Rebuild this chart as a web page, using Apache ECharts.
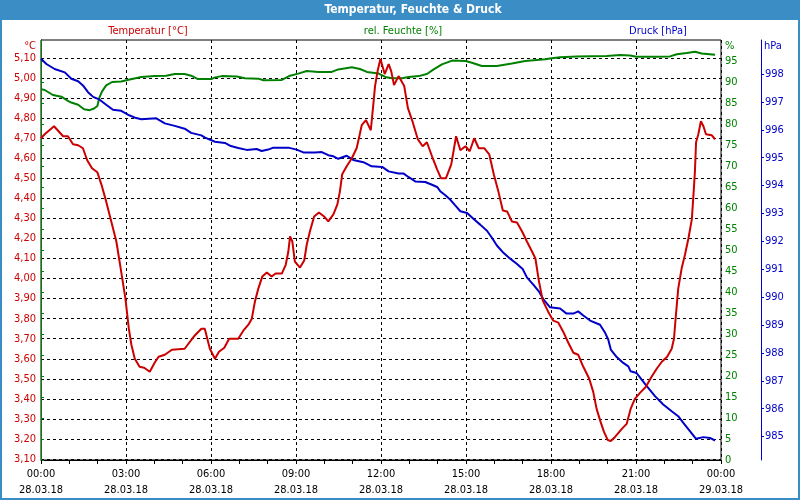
<!DOCTYPE html>
<html><head><meta charset="utf-8">
<script src="https://cdn.jsdelivr.net/npm/echarts@6/dist/echarts.min.js"></script>
<style>html,body{margin:0;padding:0;background:#fff}#c{width:800px;height:500px}</style>
</head><body><div id="c"></div>
<script>
const FONT = "'DejaVu Sans Condensed','Liberation Sans',sans-serif";
const RED = '#cc0000', GREEN = '#008000', BLUE = '#0000c8', FRAME = '#3b8dc6';

const chartTitle = 'Temperatur, Feuchte & Druck';
const seriesNames = ['Temperatur [°C]', 'rel. Feuchte [%]', 'Druck [hPa]'];
const unitNames = ['°C', '%', 'hPa'];
const hourLabels = ['00:00','03:00','06:00','09:00','12:00','15:00','18:00','21:00','00:00'];
const dateLabels = ['28.03.18','28.03.18','28.03.18','28.03.18','28.03.18','28.03.18','28.03.18','28.03.18','29.03.18'];
const pressureTicks = [985,986,987,988,989,990,991,992,993,994,995,996,997,998];

const tempHours = [0.00,0.13,0.46,0.78,0.95,1.13,1.31,1.48,1.63,1.80,1.99,2.13,2.30,2.48,2.66,2.83,2.98,3.10,3.19,3.31,3.48,3.64,3.84,4.01,4.15,4.37,4.62,5.07,5.42,5.66,5.78,5.96,6.14,6.28,6.47,6.64,6.96,7.14,7.32,7.44,7.55,7.67,7.81,7.97,8.14,8.28,8.50,8.64,8.73,8.79,8.87,8.96,9.14,9.29,9.38,9.49,9.64,9.81,9.99,10.14,10.32,10.46,10.55,10.63,10.79,10.97,11.14,11.22,11.32,11.47,11.64,11.73,11.79,11.88,11.98,12.13,12.27,12.36,12.46,12.62,12.82,12.95,13.12,13.30,13.47,13.62,13.80,13.98,14.12,14.29,14.48,14.65,14.80,14.98,15.13,15.29,15.45,15.65,15.82,15.98,16.15,16.30,16.45,16.62,16.80,16.98,17.15,17.33,17.45,17.57,17.71,17.90,18.08,18.26,18.43,18.61,18.79,18.96,19.14,19.35,19.49,19.61,19.75,19.87,20.00,20.11,20.26,20.50,20.67,20.81,20.96,21.14,21.35,21.55,21.73,21.91,22.10,22.26,22.34,22.41,22.49,22.61,22.73,22.85,22.97,23.02,23.08,23.12,23.20,23.29,23.38,23.47,23.67,23.79];
const tempValues = [4.70,4.72,4.76,4.71,4.71,4.67,4.665,4.65,4.59,4.55,4.53,4.47,4.385,4.285,4.185,4.035,3.90,3.75,3.67,3.60,3.56,3.555,3.535,3.58,3.61,3.62,3.645,3.65,3.715,3.75,3.75,3.65,3.60,3.635,3.655,3.70,3.70,3.74,3.77,3.80,3.885,3.95,4.01,4.03,4.01,4.025,4.025,4.07,4.135,4.21,4.185,4.085,4.055,4.09,4.17,4.235,4.31,4.33,4.31,4.285,4.32,4.37,4.435,4.52,4.56,4.60,4.65,4.70,4.765,4.79,4.74,4.87,4.96,5.035,5.095,5.02,5.07,5.035,4.965,5.01,4.96,4.85,4.78,4.695,4.66,4.68,4.61,4.545,4.50,4.50,4.57,4.71,4.64,4.66,4.635,4.70,4.65,4.65,4.62,4.52,4.43,4.34,4.335,4.285,4.28,4.235,4.185,4.135,4.10,3.99,3.89,3.835,3.79,3.78,3.735,3.68,3.63,3.62,3.56,3.50,3.435,3.35,3.285,3.235,3.195,3.19,3.21,3.25,3.275,3.35,3.40,3.43,3.46,3.51,3.55,3.585,3.61,3.65,3.70,3.82,3.95,4.05,4.12,4.20,4.295,4.40,4.535,4.68,4.72,4.785,4.76,4.72,4.715,4.695];

const humHours = [0.00,0.13,0.42,0.72,0.95,1.07,1.31,1.52,1.72,1.87,1.99,2.06,2.15,2.30,2.51,2.83,3.13,3.54,4.01,4.42,4.72,5.07,5.30,5.54,6.01,6.14,6.38,6.91,7.20,7.67,7.85,8.50,8.79,9.08,9.38,9.79,10.26,10.49,10.97,11.26,11.50,11.92,12.15,12.39,12.74,12.98,13.33,13.62,13.86,14.15,14.51,14.98,15.21,15.56,16.09,16.62,17.09,17.80,17.96,18.32,18.91,19.97,20.44,20.79,21.02,21.73,22.20,22.44,22.79,23.08,23.32,23.79];
const humValues = [88.3,88.1,86.9,86.5,85.5,85.1,84.6,83.5,83.3,83.7,84.3,86.3,87.7,89.2,90.0,90.1,90.6,91.2,91.4,91.5,91.9,91.9,91.5,90.7,90.7,91.1,91.4,91.3,90.9,90.8,90.4,90.5,91.5,92.0,92.6,92.4,92.4,93.0,93.5,93.1,92.4,92.0,91.2,90.9,90.9,91.2,91.4,91.9,93.0,94.2,95.1,95.0,94.6,93.8,93.8,94.4,95.0,95.4,95.6,95.9,96.1,96.2,96.4,96.3,96.0,96.0,96.1,96.6,96.9,97.2,96.8,96.5];

const pressHours = [0.00,0.19,0.48,0.84,1.07,1.31,1.48,1.66,1.84,2.07,2.30,2.54,2.83,3.07,3.36,3.54,4.07,4.37,4.72,5.07,5.30,5.66,5.79,6.14,6.49,6.67,6.96,7.26,7.61,7.79,8.02,8.20,8.73,9.02,9.26,9.67,9.91,10.14,10.32,10.49,10.79,11.02,11.38,11.67,12.04,12.27,12.62,12.80,12.98,13.21,13.56,13.80,13.98,14.09,14.27,14.45,14.62,14.80,15.04,15.27,15.50,15.74,15.92,16.09,16.33,16.56,16.80,17.00,17.15,17.39,17.57,17.74,17.96,18.32,18.55,18.79,18.96,19.14,19.38,19.73,19.91,20.02,20.11,20.32,20.55,20.73,20.81,21.02,21.20,21.38,21.67,21.96,22.26,22.49,22.67,22.91,23.12,23.38,23.61,23.79];
const pressValues = [998.55,998.36,998.18,998.06,997.83,997.74,997.59,997.35,997.18,997.08,996.90,996.72,996.68,996.54,996.42,996.38,996.41,996.23,996.14,996.04,995.89,995.80,995.72,995.57,995.53,995.43,995.35,995.28,995.31,995.24,995.29,995.36,995.36,995.29,995.19,995.19,995.20,995.09,995.05,994.96,995.07,994.92,994.84,994.69,994.67,994.51,994.43,994.43,994.30,994.15,994.13,994.03,993.95,993.80,993.65,993.49,993.29,993.08,993.02,992.80,992.60,992.38,992.12,991.85,991.58,991.38,991.19,991.01,990.71,990.43,990.21,989.91,989.64,989.59,989.41,989.41,989.49,989.34,989.16,989.01,988.72,988.48,988.12,987.85,987.64,987.52,987.34,987.28,987.04,986.81,986.45,986.15,985.91,985.73,985.49,985.19,984.92,984.98,984.95,984.86];

const zip = (a, b) => a.map((v, i) => [v, b[i]]);
const dash = { type: [3, 3], color: '#000', width: 1 };

const chart = echarts.init(document.getElementById('c'), null, { renderer: 'canvas' });
chart.setOption({
  animation: false,
  backgroundColor: '#fff',
  textStyle: { fontFamily: FONT },
  grid: [
    { left: 41, right: 79, top: 40, bottom: 41 },
    { left: 41, right: 79, top: 40, bottom: 40, show: true, borderColor: '#000', borderWidth: 1, backgroundColor: 'transparent' }
  ],
  xAxis: [
    { gridIndex: 0, type: 'value', min: 0, max: 24, show: false },
    { gridIndex: 1, type: 'value', min: 0, max: 24, interval: 3,
      axisLine: { lineStyle: { color: '#000', width: 1 } },
      axisTick: { show: true, length: 4, lineStyle: { color: '#000' } },
      minorTick: { show: true, splitNumber: 3, length: 4, lineStyle: { color: '#000' } },
      splitLine: { show: true, lineStyle: dash },
      axisLabel: { color: '#000', fontFamily: FONT, fontSize: 11, lineHeight: 16, margin: 6,
        formatter: v => { const i = Math.round(v / 3); return hourLabels[i] + '\n' + dateLabels[i]; } }
    }
  ],
  yAxis: [
    { gridIndex: 0, type: 'value', min: 3.1, max: 5.19, interval: 0.1, position: 'left',
      axisLine: { show: true, lineStyle: { color: '#000' } },
      axisTick: { show: false },
      splitLine: { show: true, showMaxLine: false, lineStyle: dash },
      axisLabel: { color: RED, fontFamily: FONT, fontSize: 11, margin: 5, showMaxLabel: false,
        formatter: v => v.toFixed(2).replace('.', ',') } },
    { gridIndex: 1, type: 'value', min: 0, max: 100, interval: 5, position: 'right',
      axisLine: { show: true, lineStyle: { color: GREEN, width: 1 } },
      axisTick: { show: true, length: 3, lineStyle: { color: GREEN } },
      splitLine: { show: false },
      axisLabel: { color: GREEN, fontFamily: FONT, fontSize: 11, margin: 4, showMaxLabel: false } },
    { gridIndex: 1, type: 'value', min: 984.16, max: 999.22, position: 'right', offset: 40,
      axisLine: { show: true, lineStyle: { color: BLUE, width: 1 } },
      axisTick: { show: true, length: 3, lineStyle: { color: BLUE }, customValues: pressureTicks },
      splitLine: { show: false },
      axisLabel: { color: BLUE, fontFamily: FONT, fontSize: 11, margin: 4, customValues: pressureTicks,
        formatter: v => String(Math.round(v)) } }
  ],
  series: [
    { name: seriesNames[1], type: 'line', xAxisIndex: 1, yAxisIndex: 1, data: zip(humHours, humValues),
      showSymbol: false, lineStyle: { color: GREEN, width: 2 }, itemStyle: { color: GREEN } },
    { name: seriesNames[2], type: 'line', xAxisIndex: 1, yAxisIndex: 2, data: zip(pressHours, pressValues),
      showSymbol: false, lineStyle: { color: BLUE, width: 2 }, itemStyle: { color: BLUE } },
    { name: seriesNames[0], type: 'line', xAxisIndex: 0, yAxisIndex: 0, data: zip(tempHours, tempValues),
      showSymbol: false, lineStyle: { color: RED, width: 2 }, itemStyle: { color: RED } }
  ],
  graphic: [
    { type: 'rect', shape: { x: 0, y: 0, width: 800, height: 20 }, style: { fill: FRAME }, z: 10 },
    { type: 'text', x: 413, y: 10, z: 11, style: { text: chartTitle, fill: '#fff', font: 'bold 12px ' + FONT, textAlign: 'center', textVerticalAlign: 'middle' } },
    { type: 'rect', shape: { x: 1, y: 1, width: 798, height: 498 }, style: { fill: 'none', stroke: FRAME, lineWidth: 2 }, z: 9 },
    { type: 'text', x: 148, y: 31, style: { text: seriesNames[0], fill: RED, font: '11px ' + FONT, textAlign: 'center', textVerticalAlign: 'middle' } },
    { type: 'text', x: 403, y: 31, style: { text: seriesNames[1], fill: GREEN, font: '11px ' + FONT, textAlign: 'center', textVerticalAlign: 'middle' } },
    { type: 'text', x: 658, y: 31, style: { text: seriesNames[2], fill: BLUE, font: '11px ' + FONT, textAlign: 'center', textVerticalAlign: 'middle' } },
    { type: 'text', x: 36, y: 46, style: { text: unitNames[0], fill: RED, font: '11px ' + FONT, textAlign: 'right', textVerticalAlign: 'middle' } },
    { type: 'text', x: 725, y: 46, style: { text: unitNames[1], fill: GREEN, font: '11px ' + FONT, textAlign: 'left', textVerticalAlign: 'middle' } },
    { type: 'text', x: 764, y: 46, style: { text: unitNames[2], fill: BLUE, font: '11px ' + FONT, textAlign: 'left', textVerticalAlign: 'middle' } }
  ]
});
</script></body></html>
